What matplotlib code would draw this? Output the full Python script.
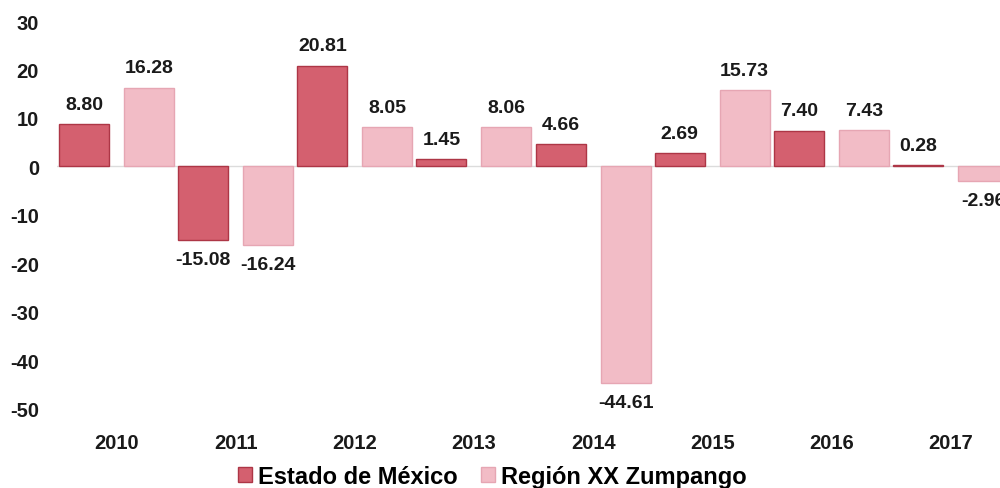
import matplotlib.pyplot as plt
from matplotlib.patches import Patch
import numpy as np

years = ['2010', '2011', '2012', '2013', '2014', '2015', '2016', '2017']
estado = [8.80, -15.08, 20.81, 1.45, 4.66, 2.69, 7.40, 0.28]
region = [16.28, -16.24, 8.05, 8.06, -44.61, 15.73, 7.43, -2.96]

c_estado = '#d4606f'
c_estado_edge = '#ad3646'
c_region = '#f2bcc6'
c_region_edge = '#e6a6b3'

plt.rcParams['font.family'] = ['Liberation Sans', 'DejaVu Sans']
plt.rcParams['font.weight'] = 'bold'
plt.rcParams['axes.unicode_minus'] = False

fig = plt.figure(figsize=(10, 4.89), dpi=100)
ax = fig.add_axes([0.057, 0.1616, 0.953, 0.7934])

x = np.arange(len(years))
w = 0.42
off = 0.273
b1 = ax.bar(x - off, estado, w, color=c_estado, edgecolor=c_estado_edge, linewidth=1)
b2 = ax.bar(x + off, region, w, color=c_region, edgecolor=c_region_edge, linewidth=1)

for bars, vals in ((b1, estado), (b2, region)):
    for b, v in zip(bars, vals):
        cx = b.get_x() + b.get_width() / 2
        if v >= 0:
            ax.annotate(f'{v:.2f}', (cx, v), xytext=(0, 8), textcoords='offset points',
                        ha='center', va='bottom', fontsize=14, fontweight='bold', color='#1a1a1a')
        else:
            ax.annotate(f'{v:.2f}', (cx, v), xytext=(0, -8), textcoords='offset points',
                        ha='center', va='top', fontsize=14, fontweight='bold', color='#1a1a1a')

ax.axhline(0, color='#dcdcdc', linewidth=1, zorder=0)
ax.set_ylim(-50, 30)
ax.set_xlim(-0.5, 7.5)
ax.set_yticks(range(-50, 31, 10))
ax.set_xticks(x)
ax.set_xticklabels(years)
ax.tick_params(axis='both', length=0, labelsize=14.5, colors='#1a1a1a')
ax.tick_params(axis='y', pad=13)
ax.tick_params(axis='x', pad=17)
for s in ax.spines.values():
    s.set_visible(False)

handles = [Patch(facecolor=c_estado, edgecolor=c_estado_edge, label='Estado de México'),
           Patch(facecolor=c_region, edgecolor=c_region_edge, label='Región XX Zumpango')]
fig.legend(handles=handles, loc='center', bbox_to_anchor=(0.492, 0.024), ncol=2, frameon=False,
           prop={'size': 17, 'weight': 'bold'}, handlelength=0.6, handleheight=0.6,
           handletextpad=0.25, columnspacing=1.0)

fig.savefig('out.png', dpi=100)
